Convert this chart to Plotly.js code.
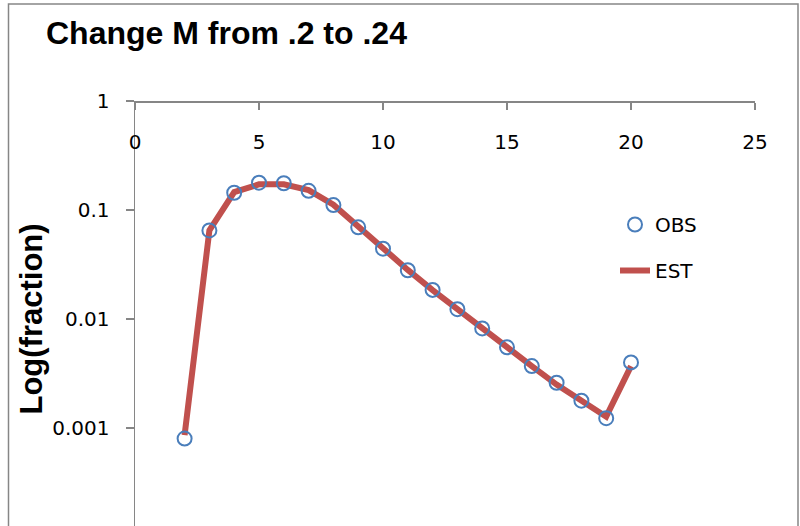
<!DOCTYPE html>
<html>
<head>
<meta charset="utf-8">
<script src="https://cdn.plot.ly/plotly-3.0.1.min.js"></script>
<style>
html,body{margin:0;padding:0;background:#fff;overflow:hidden;width:800px;height:526px;}
#chart{width:800px;height:560px;}
</style>
</head>
<body>
<div id="chart"></div>
<script>
// Data
const ages = [2,3,4,5,6,7,8,9,10,11,12,13,14,15,16,17,18,19,20];
const obsValues = [0.00080,0.065,0.144,0.178,0.176,0.150,0.111,0.0694,0.0442,0.0280,0.0185,0.0123,0.0082,0.0055,0.0037,0.0026,0.00178,0.00123,0.0040];
const estValues = [0.00086,0.065,0.146,0.172,0.172,0.152,0.112,0.0700,0.0445,0.0282,0.0184,0.0122,0.0081,0.0054,0.0037,0.0025,0.00175,0.00127,0.0037];
const xTickVals = [0,5,10,15,20,25];
const xTickText = ['0','5','10','15','20','25'];
const yTickVals = [1,0.1,0.01,0.001];
const yTickText = ['1','0.1','0.01','0.001'];

const W = 800, H = 560;
const L = 135, R = 45, T = 101, B = 23;
const pw = W - L - R, ph = H - T - B;
const px = v => (v - L) / pw;
const py = v => (H - B - v) / ph;

const axisGray = '#868686';
const tickFont = {family: 'DejaVu Sans, sans-serif', size: 20, color: '#000'};

const traces = [
  {
    x: ages, y: estValues, name: 'EST', type: 'scatter', mode: 'lines',
    line: {color: '#C0504D', width: 6},
    legendgroup: 'b', legendrank: 2
  },
  {
    x: ages, y: obsValues, name: 'OBS', type: 'scatter', mode: 'markers',
    marker: {symbol: 'circle-open', size: 14, color: '#4A7EBB', line: {width: 2, color: '#4A7EBB'}},
    legendgroup: 'a', legendrank: 1
  }
];

const layout = {
  width: W, height: H,
  margin: {l: L, r: R, t: T, b: B, pad: 0},
  paper_bgcolor: '#fff', plot_bgcolor: '#fff',
  title: {
    text: 'Change M from .2 to .24',
    font: {family: 'Liberation Sans, Arial, sans-serif', size: 32, color: '#000', weight: 'bold'},
    xref: 'container', yref: 'container',
    x: 46 / W, xanchor: 'left', y: 1 - 33 / H, yanchor: 'middle'
  },
  xaxis: {
    range: [0, 25], anchor: 'free', position: 1, side: 'bottom',
    tickmode: 'array', tickvals: xTickVals, ticktext: xTickText,
    ticks: 'outside', ticklen: 7, tickwidth: 1.5, tickcolor: axisGray,
    showline: true, linecolor: axisGray, linewidth: 1.5,
    showgrid: false, zeroline: false,
    tickfont: tickFont, ticklabelstandoff: 15
  },
  yaxis: {
    type: 'log', range: [-4, 0],
    tickmode: 'array', tickvals: yTickVals, ticktext: yTickText,
    ticks: 'outside', ticklen: 8, tickwidth: 1.5, tickcolor: axisGray,
    showline: true, linecolor: axisGray, linewidth: 1.5,
    showgrid: false, zeroline: false,
    tickfont: tickFont, ticklabelstandoff: 12,
    title: {text: 'Log(fraction)', standoff: 0,
      font: {family: 'Liberation Sans, Arial, sans-serif', size: 31, color: '#000', weight: 'bold'}}
  },
  showlegend: true,
  legend: {
    x: px(615), xanchor: 'left', y: py(205), yanchor: 'top',
    traceorder: 'grouped', tracegroupgap: 17,
    font: tickFont, bgcolor: 'rgba(0,0,0,0)', borderwidth: 0
  },
  shapes: [
    {type: 'rect', xref: 'paper', yref: 'paper',
     x0: px(8.5), x1: px(798), y0: py(4), y1: py(590),
     line: {color: axisGray, width: 1.5}, fillcolor: 'rgba(0,0,0,0)', layer: 'below'}
  ]
};

Plotly.newPlot('chart', traces, layout, {displayModeBar: false, staticPlot: true});
</script>
</body>
</html>
